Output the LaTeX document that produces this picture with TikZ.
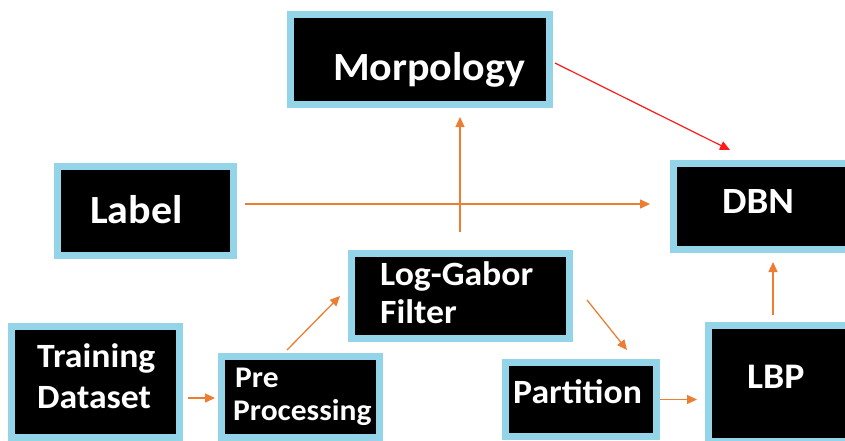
\documentclass[tikz,border=0pt]{standalone}
\usepackage{fontspec}
\setmainfont{Carlito}[BoldFeatures={FakeStretch=1.05}]
\usetikzlibrary{arrows.meta}
\definecolor{bord}{HTML}{93D4E8}
\definecolor{orng}{HTML}{ED7D31}
\definecolor{rd}{HTML}{FF1A1A}
\tikzset{
  box/.style={draw=bord, fill=black, line width=7pt, rectangle, inner sep=0pt},
  txt/.style={text=white, font=\bfseries, inner sep=0pt, anchor=base west},
  arr/.style={draw=orng, line width=1.3pt, -{Triangle[length=10pt,width=9pt]}},
  rarr/.style={draw=rd, line width=1.2pt, -{Triangle[length=10pt,width=9pt]}}
}
\newcommand{\fs}[1]{\fontsize{#1}{#1}\selectfont}
\begin{document}
\begin{tikzpicture}[x=1pt,y=-1pt]
\useasboundingbox (0,0) rectangle (845,440);
% boxes
\node[box, minimum width=259pt, minimum height=90pt] (morph) at (420,59.5) {};
\node[box, minimum width=176pt, minimum height=89pt] (label) at (145.5,211) {};
\node[box, minimum width=178pt, minimum height=86pt] (dbn) at (762.5,206.5) {};
\node[box, minimum width=168pt, minimum height=111pt] (train) at (95.5,382) {};
\node[box, minimum width=158pt, minimum height=81pt] (pre) at (300.5,397) {};
\node[box, minimum width=218pt, minimum height=85pt] (log) at (460.5,296) {};
\node[box, minimum width=151pt, minimum height=74pt] (part) at (581,399.5) {};
\node[box, minimum width=143pt, minimum height=116pt] (lbp) at (780,383.5) {};
% texts
\node[txt, font=\bfseries\fs{40}] (morphT) at (333,80) {Morpology};
\node[txt, font=\bfseries\fs{40}] (labelT) at (90,223) {Label};
\node[txt, font=\bfseries\fs{37}] (dbnT) at (722,213) {DBN};
\node[txt, font=\bfseries\fs{34}] (trainT1) at (37,367) {Training};
\node[txt, font=\bfseries\fs{34}] (trainT2) at (37,408) {Dataset};
\node[txt, font=\bfseries\fs{30}] (preT1) at (235,387) {Pre};
\node[txt, font=\bfseries\fs{30}] (preT2) at (233,420) {Processing};
\node[txt, font=\bfseries\fs{34}] (logT1) at (380,285) {Log-Gabor};
\node[txt, font=\bfseries\fs{34}] (logT2) at (380,323) {Filter};
\node[txt, font=\bfseries\fs{34}] (partT) at (513,403) {Partition};
\node[txt, font=\bfseries\fs{36}] (lbpT) at (747,388) {LBP};
% connectors
\draw[arr, shorten <=5pt, shorten >=3pt] (train.east |- 0,398) -- (pre.west |- 0,398);
\draw[arr] ([xshift=-13.5pt,yshift=3pt]pre.north) -- ([xshift=-8pt]log.west);
\draw[arr, shorten <=18pt, shorten >=9pt] (log.north -| 460,0) -- (morph.south -| 460,0);
\draw[arr, shorten <=8pt, shorten >=20pt] (label.east |- 0,204) -- (dbn.west |- 0,204);
\draw[rarr] ([yshift=-3.5pt,xshift=2pt]morph.east) -- ([xshift=-32.5pt,yshift=10pt]dbn.north);
\draw[arr] ([shift={(14pt,-4pt)}]log.east) -- ([shift={(46pt,9pt)}]part.north);
\draw[arr, shorten >=8pt] (part.east) -- (lbp.west |- part.east);
\draw[arr, shorten <=7pt, shorten >=9pt] (lbp.north -| 773,0) -- (dbn.south -| 773,0);
\end{tikzpicture}
\end{document}
